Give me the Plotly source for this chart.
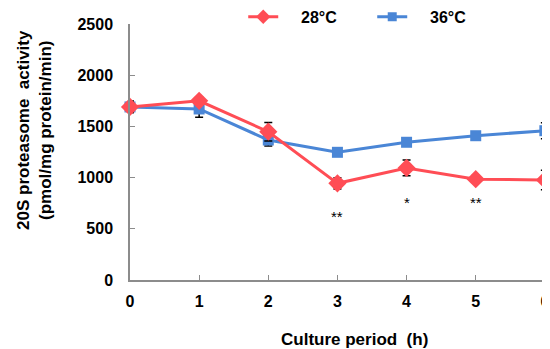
import plotly.graph_objects as go

hours = [0, 1, 2, 3, 4, 5, 6]
act_28 = [1690, 1750, 1448, 944, 1094, 985, 977]
err_28 = [55, 40, 90, 55, 77, 35, 95]
act_36 = [1690, 1670, 1367, 1247, 1345, 1409, 1458]
err_36 = [55, 80, 58, 25, 25, 25, 78]
sig_x = [3, 4, 5, 6]
sig_y = [625, 755, 755, 690]
sig_text = ["**", "*", "**", "*"]
series_names = ["28°C", "36°C"]

RED = "#FF4D55"
BLUE = "#4A86D6"
FONT = "Liberation Sans, Arial, sans-serif"
PAD = "\u00a0" * 4

fig = go.Figure()
fig.add_trace(go.Scatter(
    x=hours, y=act_36, name=series_names[1], mode="lines+markers", showlegend=False,
    line=dict(color=BLUE, width=3),
    marker=dict(symbol="square", size=11, color=BLUE),
    error_y=dict(type="data", array=err_36, color="black", thickness=1.5, width=4),
    cliponaxis=False,
))
fig.add_trace(go.Scatter(
    x=hours, y=act_28, name=series_names[0], mode="lines+markers", showlegend=False,
    line=dict(color=RED, width=3),
    marker=dict(symbol="diamond", size=14, color=RED),
    error_y=dict(type="data", array=err_28, color="black", thickness=1.5, width=4),
    cliponaxis=False,
))
# legend entries (smaller symbols, as in the reference legend)
fig.add_trace(go.Scatter(
    x=[None], y=[None], name=PAD + "<b>" + series_names[0] + "</b>", mode="lines+markers",
    line=dict(color=RED, width=3), marker=dict(symbol="diamond", size=11, color=RED),
))
fig.add_trace(go.Scatter(
    x=[None], y=[None], name=PAD + "<b>" + series_names[1] + "</b>", mode="lines+markers",
    line=dict(color=BLUE, width=3), marker=dict(symbol="square", size=9, color=BLUE),
))

for sx, sy, st in zip(sig_x, sig_y, sig_text):
    fig.add_annotation(x=sx, y=sy, text=st, showarrow=False,
                       font=dict(family=FONT, size=15, color="black"))

fig.add_annotation(x=-0.229, y=0.586, xref="paper", yref="paper",
                   xanchor="center", yanchor="middle",
                   text="<b>20S proteasome  activity<br>(pmol/mg protein/min)</b>",
                   textangle=-90, showarrow=False,
                   font=dict(family=FONT, size=17, color="black"))
fig.add_annotation(x=0.542, y=-0.234, xref="paper", yref="paper",
                   text="<b>Culture period  (h)</b>", showarrow=False,
                   xanchor="center", yanchor="middle",
                   font=dict(family=FONT, size=17, color="black"))

fig.update_layout(
    width=542, height=341,
    margin=dict(l=122, r=5, t=16, b=69, autoexpand=False),
    plot_bgcolor="white", paper_bgcolor="white",
    showlegend=True,
    legend=dict(orientation="h", x=0.434, y=0.974, xref="container", yref="container",
                xanchor="left", yanchor="middle",
                font=dict(family=FONT, size=16, color="black"),
                itemwidth=30, entrywidth=84, entrywidthmode="pixels",
                bgcolor="rgba(0,0,0,0)"),
    font=dict(family=FONT, color="black"),
)
fig.update_xaxes(range=[0, 6.002], tickvals=hours, ticktext=[f"<b>{h}</b>" for h in hours],
                 showgrid=False, zeroline=False, showline=True, linecolor="#8c8c8c",
                 linewidth=1.5, ticks="inside", ticklen=5, tickcolor="#8c8c8c",
                 tickfont=dict(family=FONT, size=16, color="black"), ticklabelstandoff=6)
fig.update_yaxes(range=[0, 2500], tickvals=[0, 500, 1000, 1500, 2000, 2500],
                 ticktext=["<b>0</b>", "<b>500</b>", "<b>1000</b>", "<b>1500</b>", "<b>2000</b>", "<b>2500</b>"],
                 showgrid=False, zeroline=False, showline=True, linecolor="#8c8c8c",
                 linewidth=1.5, ticks="inside", ticklen=5, tickcolor="#8c8c8c",
                 tickfont=dict(family=FONT, size=16, color="black"), ticklabelstandoff=12)

fig.write_html("out.html")
